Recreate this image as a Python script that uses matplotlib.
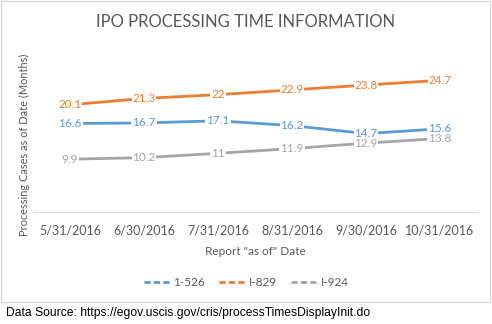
import matplotlib.pyplot as plt
from matplotlib.patches import Rectangle

dates = ['5/31/2016', '6/30/2016', '7/31/2016', '8/31/2016', '9/30/2016', '10/31/2016']
i526 = [16.6, 16.7, 17.1, 16.2, 14.7, 15.6]
i829 = [20.1, 21.3, 22, 22.9, 23.8, 24.7]
i924 = [9.9, 10.2, 11, 11.9, 12.9, 13.8]
series_names = ['1-526', 'I-829', 'I-924']
colors = ['#5B9BD5', '#ED7D31', '#A5A5A5']

W, H = 492, 324
fig = plt.figure(figsize=(W / 100, H / 100), dpi=100)
plt.rcParams['font.family'] = ['Lato', 'DejaVu Sans']

# chart border
fig.patches.append(Rectangle((1 / W, 1 - 302 / H), 489 / W, 301 / H, transform=fig.transFigure,
                             fill=False, edgecolor='#D9D9D9', linewidth=1))

ax = fig.add_axes([33 / W, 1 - 212 / H, 444 / W, 160 / H])
x = list(range(len(dates)))
handles = []
for vals, name, c in zip([i526, i829, i924], series_names, colors):
    h, = ax.plot(x, vals, color=c, linewidth=2, solid_capstyle='round', label=name)
    handles.append(h)
    for xi, v in zip(x, vals):
        ax.text(xi, v, f'{v:g}', color=c, fontsize=8.5, ha='center', va='center',
                bbox=dict(facecolor='white', edgecolor='none', pad=0.6))

ax.set_xlim(-0.5, 5.5)
ax.set_ylim(0, 30)
ax.set_xticks(x)
ax.set_xticklabels(dates, fontsize=9, color='#595959')
ax.tick_params(axis='x', length=0, pad=9)
ax.set_yticks([])
for s in ['top', 'right', 'left']:
    ax.spines[s].set_visible(False)
ax.spines['bottom'].set_color('#D9D9D9')
ax.set_xlabel('Report "as of" Date', fontsize=8.5, color='#595959', labelpad=7)
ax.set_ylabel('Processing Cases as of Date (Months)', fontsize=7.9, color='#595959', va='center')
ax.yaxis.set_label_coords((24 - 33) / 444, (212 - 145) / 160)

fig.text(0.5, 1 - 22 / H, 'IPO PROCESSING TIME INFORMATION', ha='center', va='center',
         fontsize=12, color='#595959')

leg = fig.legend(handles=handles, loc='center', bbox_to_anchor=(0.5, 1 - 283 / H), ncol=3,
                 frameon=False, fontsize=8.5, handlelength=2.2, columnspacing=1.2, handletextpad=0.3)
for t in leg.get_texts():
    t.set_color('#595959')
for lh in leg.get_lines():
    lh.set_linestyle((0, (2.2, 1.2)))
    lh.set_linewidth(2)

fig.text(6 / W, 1 - 313 / H, 'Data Source: https://egov.uscis.gov/cris/processTimesDisplayInit.do',
         fontsize=8.7, family='Liberation Sans', color='black', va='center')

fig.savefig('out.png', dpi=100)
